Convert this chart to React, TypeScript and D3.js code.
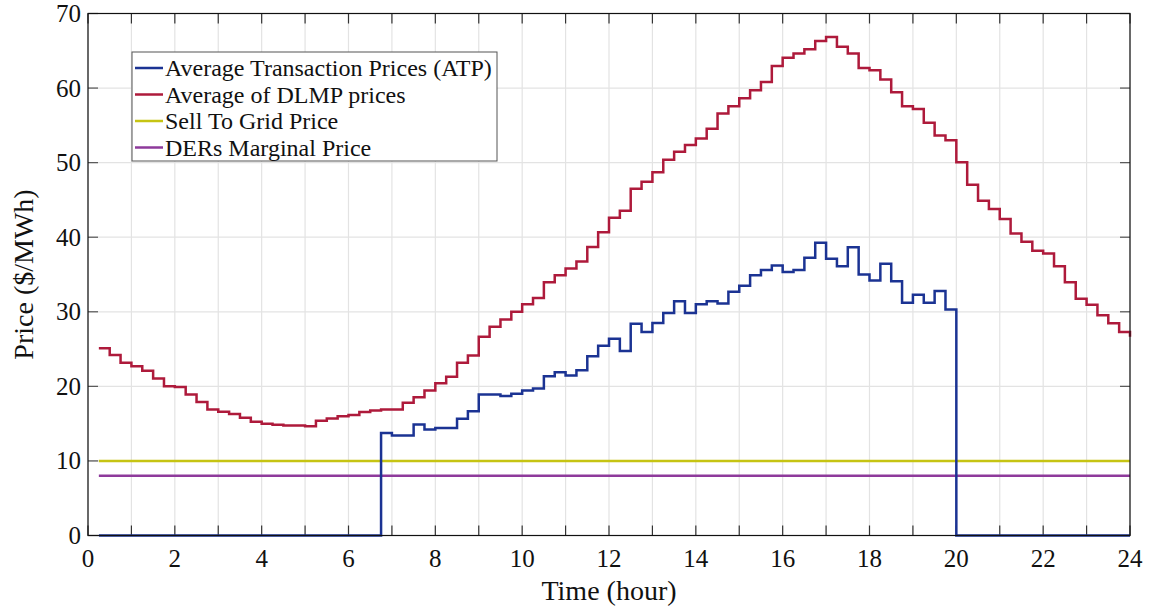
import React from "react";
import * as d3 from "d3";

const times: number[] = d3.range(1, 97).map((i) => i * 0.25);

const dlmpPrices: number[] = [
  25.1, 24.2, 23.15, 22.7, 22.1, 21.05, 20.0, 19.9, 18.9, 17.9, 16.9, 16.6,
  16.3, 15.8, 15.25, 15.0, 14.85, 14.75, 14.75, 14.65, 15.4, 15.7, 16.0, 16.15,
  16.55, 16.75, 16.9, 16.9, 17.8, 18.55, 19.45, 20.4, 21.3, 23.15, 24.15, 26.65,
  28.0, 28.95, 30.0, 31.0, 31.85, 33.95, 34.9, 35.8, 36.75, 38.7, 40.65, 42.6,
  43.55, 46.5, 47.45, 48.7, 50.4, 51.45, 52.35, 53.25, 54.55, 56.6, 57.55, 58.65,
  59.7, 60.8, 62.95, 64.05, 64.65, 65.2, 66.3, 66.85, 65.55, 64.65, 62.7, 62.4,
  61.15, 59.45, 57.55, 57.2, 55.35, 53.65, 53.0, 50.05, 47.05, 44.9, 43.8, 42.45,
  40.5, 39.4, 38.2, 37.8, 36.1, 33.95, 31.75, 30.95, 29.55, 28.45, 27.3, 26.65,
];

const atpPrices: number[] = [
  0, 0, 0, 0, 0, 0, 0, 0, 0, 0, 0, 0,
  0, 0, 0, 0, 0, 0, 0, 0, 0, 0, 0, 0,
  0, 0, 13.75, 13.4, 13.4, 14.9, 14.2, 14.4, 14.4, 15.65, 16.65, 18.9,
  18.9, 18.7, 19.0, 19.45, 19.7, 21.35, 21.9, 21.45, 22.15, 24.05, 25.45, 26.4,
  24.75, 28.4, 27.3, 28.5, 29.85, 31.4, 29.85, 31.0, 31.4, 31.1, 32.7, 33.5,
  34.9, 35.6, 36.2, 35.35, 35.6, 37.25, 39.25, 37.1, 36.1, 38.65, 35.0, 34.2,
  36.45, 34.1, 31.2, 32.3, 31.2, 32.8, 30.3, 0, 0, 0, 0, 0,
  0, 0, 0, 0, 0, 0, 0, 0, 0, 0, 0, 0,
];

const sellToGridPrice = 10;
const derMarginalPrice = 8;

const seriesNames: string[] = [
  "Average Transaction Prices (ATP)",
  "Average of DLMP prices",
  "Sell To Grid Price",
  "DERs Marginal Price",
];
const seriesColors: string[] = ["#1b3393", "#ae1a3b", "#c6c413", "#8e3a9b"];

const xTicks: number[] = d3.range(0, 25, 1);
const xTickLabels: number[] = d3.range(0, 25, 2);
const yTicks: number[] = d3.range(0, 71, 10);

const W = 1149;
const H = 610;
const left = 88;
const right = 1130;
const top = 13.5;
const bottom = 535.5;

export default function App() {
  const x = d3.scaleLinear().domain([0, 24]).range([left, right]);
  const y = d3.scaleLinear().domain([0, 70]).range([bottom, top]);

  const line = d3
    .line<[number, number]>()
    .x((d) => x(d[0]))
    .y((d) => y(d[1]))
    .curve(d3.curveStepAfter);

  const atpPath = line(times.map((t, i) => [t, atpPrices[i]] as [number, number])) || "";
  const dlmpPath = line(times.map((t, i) => [t, dlmpPrices[i]] as [number, number])) || "";
  const sellPath = line(times.map((t) => [t, sellToGridPrice] as [number, number])) || "";
  const derPath = line(times.map((t) => [t, derMarginalPrice] as [number, number])) || "";

  const font = "'Liberation Serif', 'Times New Roman', serif";
  const tickLen = 10;

  const legendX = 132;
  const legendY = 52;
  const legendW = 365;
  const legendH = 109;
  const rowH = 26.5;

  return (
    <svg
      width={W}
      height={H}
      style={{ position: "absolute", left: 0, top: 0, background: "#fff" }}
      fontFamily={font}
    >
      <rect x={0} y={0} width={W} height={H} fill="#fff" />
      {xTicks.map((t) => (
        <line key={"gx" + t} x1={x(t)} x2={x(t)} y1={top} y2={bottom} stroke="#e3e3e3" strokeWidth={1.2} />
      ))}
      {yTicks.map((t) => (
        <line key={"gy" + t} x1={left} x2={right} y1={y(t)} y2={y(t)} stroke="#e3e3e3" strokeWidth={1.2} />
      ))}
      {xTicks.map((t) => (
        <g key={"tx" + t}>
          <line x1={x(t)} x2={x(t)} y1={bottom} y2={bottom - tickLen} stroke="#333" strokeWidth={1.2} />
          <line x1={x(t)} x2={x(t)} y1={top} y2={top + tickLen} stroke="#333" strokeWidth={1.2} />
        </g>
      ))}
      {yTicks.map((t) => (
        <g key={"ty" + t}>
          <line x1={left} x2={left + tickLen} y1={y(t)} y2={y(t)} stroke="#555" strokeWidth={1.2} />
          <line x1={right} x2={right - tickLen} y1={y(t)} y2={y(t)} stroke="#555" strokeWidth={1.2} />
        </g>
      ))}
      <path d={sellPath} fill="none" stroke={seriesColors[2]} strokeWidth={2.5} />
      <path d={derPath} fill="none" stroke={seriesColors[3]} strokeWidth={2.5} />
      <path d={dlmpPath} fill="none" stroke={seriesColors[1]} strokeWidth={2.5} />
      <path d={atpPath} fill="none" stroke={seriesColors[0]} strokeWidth={2.5} />
      <rect x={left} y={top} width={right - left} height={bottom - top} fill="none" stroke="#111" strokeWidth={1.2} />
      {xTickLabels.map((t) => (
        <text key={"lx" + t} x={x(t)} y={567} textAnchor="middle" fontSize={25} fill="#111">
          {t}
        </text>
      ))}
      {yTicks.map((t) => (
        <text key={"ly" + t} x={81} y={y(t) + 8.5} textAnchor="end" fontSize={25} fill="#111">
          {t}
        </text>
      ))}
      <text x={(left + right) / 2} y={600} textAnchor="middle" fontSize={28} fill="#111">
        Time (hour)
      </text>
      <text
        transform={`translate(33, ${(top + bottom) / 2}) rotate(-90)`}
        textAnchor="middle"
        fontSize={28}
        fill="#111"
      >
        Price ($/MWh)
      </text>
      <rect x={legendX} y={legendY} width={legendW} height={legendH} fill="#fff" stroke="#555" strokeWidth={1} />
      {seriesNames.map((name, i) => {
        const cy = legendY + 16 + i * rowH;
        return (
          <g key={name}>
            <line x1={legendX + 3} x2={legendX + 31} y1={cy} y2={cy} stroke={seriesColors[i]} strokeWidth={2.5} />
            <text x={legendX + 33} y={cy + 8} fontSize={24} fill="#111">
              {name}
            </text>
          </g>
        );
      })}
    </svg>
  );
}
